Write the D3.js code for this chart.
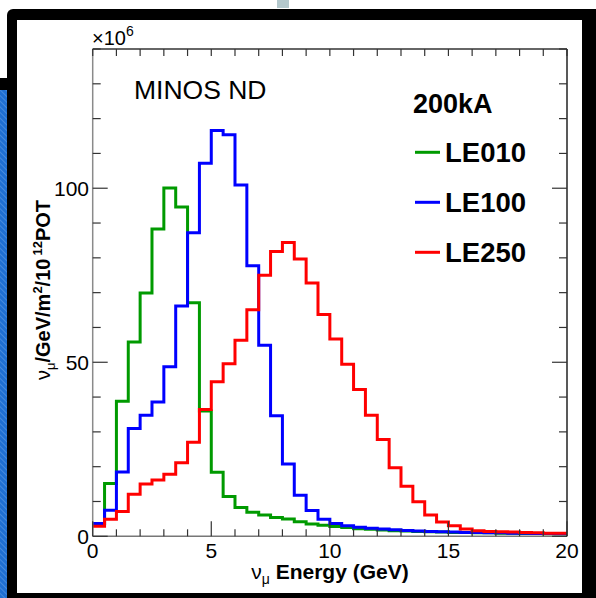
<!DOCTYPE html>
<html>
<head>
<meta charset="utf-8">
<script src="https://cdn.jsdelivr.net/npm/d3@7"></script>
<style>
  html, body { margin: 0; padding: 0; background: #fff; }
  svg { display: block; font-family: "Liberation Sans", Arial, Helvetica, sans-serif; }
</style>
</head>
<body>
<svg id="chart" width="596" height="598"></svg>
<script>
// Muon-neutrino flux at the MINOS near detector, 200 kA horn current,
// three target positions. Values in units of 10^6 per GeV per m^2 per 10^12 POT,
// 0.5 GeV bins from 0 to 20 GeV.
const binWidth = 0.5;
const binLow = d3.range(0, 20, binWidth);

const le010 = [3.7, 15.2, 38.8, 55.8, 69.9, 88.3, 100.1, 94.6, 67.1, 36.0,
               18.4, 11.4, 8.3, 6.9, 6.1, 5.4, 5.0, 4.2, 3.5, 3.2,
               2.8, 2.5, 2.2, 2.0, 1.8, 1.6, 1.5, 1.4, 1.3, 1.2,
               1.1, 1.1, 1.0, 1.0, 0.9, 0.9, 0.8, 0.8, 0.7, 0.7];
const le100 = [3.7, 7.5, 18.5, 31.0, 34.8, 38.6, 48.7, 66.2, 87.2, 107.2,
               116.6, 115.4, 100.9, 77.7, 54.9, 34.6, 20.8, 11.8, 7.4, 4.9,
               3.7, 3.0, 2.6, 2.3, 2.1, 1.9, 1.7, 1.5, 1.4, 1.3,
               1.2, 1.1, 1.1, 1.0, 1.0, 0.9, 0.9, 0.8, 0.8, 0.7];
const le250 = [2.9, 4.9, 7.1, 12.1, 15.0, 16.2, 17.8, 21.1, 27.0, 36.4,
               44.4, 49.6, 56.3, 65.1, 75.0, 81.8, 84.4, 79.7, 72.8, 63.7,
               56.7, 49.4, 42.2, 34.8, 27.8, 19.7, 14.4, 9.9, 6.1, 4.1,
               3.0, 2.1, 1.6, 1.4, 1.3, 1.2, 1.1, 1.0, 0.9, 0.9];

const seriesNames = ["LE010", "LE100", "LE250"];
const seriesColors = ["#009a00", "#0000ff", "#ff0000"];
const seriesValues = [le010, le100, le250];

const xTicks = [0, 5, 10, 15, 20];
const yTicks = [0, 50, 100];

const svg = d3.select("#chart");

// ---- page frame ----
const defs = svg.append("defs");
const pat = defs.append("pattern").attr("id", "hatch")
  .attr("width", 4).attr("height", 4)
  .attr("patternUnits", "userSpaceOnUse")
  .attr("patternTransform", "rotate(-45)");
pat.append("rect").attr("width", 4).attr("height", 4).attr("fill", "#1f6fd2");
pat.append("line").attr("x1", 0).attr("y1", 0).attr("x2", 0).attr("y2", 4)
  .attr("stroke", "#6aa4e8").attr("stroke-width", 1);

svg.append("rect").attr("x", 277).attr("y", 0).attr("width", 12).attr("height", 8).attr("fill", "#b4c8cc");
svg.append("rect").attr("x", 0).attr("y", 78).attr("width", 8).attr("height", 12).attr("fill", "#000");
svg.append("rect").attr("x", 0).attr("y", 90).attr("width", 7).attr("height", 508).attr("fill", "url(#hatch)");
svg.append("rect").attr("x", 7).attr("y", 9).attr("width", 600).attr("height", 600).attr("rx", 6).attr("fill", "#000");
svg.append("rect").attr("x", 17).attr("y", 20).attr("width", 565).attr("height", 573).attr("fill", "#fff");

// ---- plot area ----
const plotL = 92.7, plotR = 567, plotT = 49, plotB = 536.3;
const x = d3.scaleLinear().domain([0, 20]).range([plotL, plotR]);
const y = d3.scaleLinear().domain([0, 140]).range([plotB, plotT]);

const g = svg.append("g");

// histograms as step lines
const line = d3.line().x(d => x(d[0])).y(d => y(d[1])).curve(d3.curveStepAfter);
seriesValues.forEach((vals, i) => {
  const pts = binLow.map((e, k) => [e, vals[k]]);
  pts.push([20, vals[vals.length - 1]]);
  g.append("path").attr("d", line(pts))
    .attr("fill", "none").attr("stroke", seriesColors[i])
    .attr("stroke-width", 3).attr("stroke-linejoin", "miter");
});

// frame
g.append("line").attr("x1", plotL).attr("x2", plotL).attr("y1", plotT).attr("y2", plotB).attr("stroke", "#8a8a8a").attr("stroke-width", 1.5);
g.append("line").attr("x1", plotL).attr("x2", plotR).attr("y1", plotB).attr("y2", plotB).attr("stroke", "#777").attr("stroke-width", 1.5);
g.append("line").attr("x1", plotL).attr("x2", plotR).attr("y1", plotT).attr("y2", plotT).attr("stroke", "#333").attr("stroke-width", 1.5);
g.append("line").attr("x1", plotR).attr("x2", plotR).attr("y1", plotT).attr("y2", plotB).attr("stroke", "#222").attr("stroke-width", 1.5);

// ticks: minor every 1 GeV / 10 units, major at labelled values
const xMinor = d3.range(0, 21, 1);
const yMinor = d3.range(0, 141, 10);
const tickCol = "#333";
xMinor.forEach(v => {
  const len = v % 5 === 0 ? 15 : 7;
  g.append("line").attr("x1", x(v)).attr("x2", x(v)).attr("y1", plotB).attr("y2", plotB - len).attr("stroke", tickCol).attr("stroke-width", 1.2);
  g.append("line").attr("x1", x(v)).attr("x2", x(v)).attr("y1", plotT).attr("y2", plotT + 7).attr("stroke", tickCol).attr("stroke-width", 1.2);
});
yMinor.forEach(v => {
  const len = v % 50 === 0 ? 15 : 8;
  g.append("line").attr("x1", plotL).attr("x2", plotL + len).attr("y1", y(v)).attr("y2", y(v)).attr("stroke", tickCol).attr("stroke-width", 1.2);
  g.append("line").attr("x1", plotR).attr("x2", plotR - len).attr("y1", y(v)).attr("y2", y(v)).attr("stroke", tickCol).attr("stroke-width", 1.2);
});

// tick labels
g.selectAll(".xl").data(xTicks).enter().append("text")
  .attr("x", d => x(d)).attr("y", 558).attr("text-anchor", "middle")
  .attr("font-size", 21).attr("fill", "#000").text(d => d);
g.selectAll(".yl").data(yTicks).enter().append("text")
  .attr("x", 89).attr("y", d => y(d) + 7.5).attr("text-anchor", "end")
  .attr("font-size", 21).attr("fill", "#000").text(d => d);

// exponent
const ex = svg.append("text").attr("x", 92).attr("y", 45).attr("font-size", 20).attr("fill", "#000");
ex.append("tspan").text("\u00d710");
ex.append("tspan").attr("dy", -9).attr("font-size", 14).text("6");

// axis titles
const xt = svg.append("text").attr("x", 330).attr("y", 579).attr("text-anchor", "middle")
  .attr("font-size", 21).attr("fill", "#000");
xt.append("tspan").text("\u03bd");
xt.append("tspan").attr("dy", 5).attr("font-size", 14).text("\u03bc");
xt.append("tspan").attr("dy", -5).attr("font-weight", "bold").text(" Energy (GeV)");

const yt = svg.append("text").attr("transform", "translate(50,290) rotate(-90)")
  .attr("text-anchor", "middle").attr("font-size", 20).attr("fill", "#000");
yt.append("tspan").text("\u03bd");
yt.append("tspan").attr("dy", 5).attr("font-size", 13).text("\u03bc");
yt.append("tspan").attr("dy", -5).attr("font-weight", "bold").text("/GeV/m");
yt.append("tspan").attr("dy", -8).attr("font-size", 13).attr("font-weight", "bold").text("2");
yt.append("tspan").attr("dy", 8).attr("font-weight", "bold").text("/10");
yt.append("tspan").attr("dy", -8).attr("dx", 3).attr("font-size", 13).attr("font-weight", "bold").text("12");
yt.append("tspan").attr("dy", 8).attr("font-weight", "bold").text("POT");

// annotation and legend
svg.append("text").attr("x", 134).attr("y", 98.5).attr("font-size", 26.5).attr("fill", "#000").text("MINOS ND");
svg.append("text").attr("x", 413).attr("y", 112.5).attr("font-size", 27).attr("font-weight", "bold").attr("fill", "#000").text("200kA");

seriesNames.forEach((name, i) => {
  const ly = 152.3 + i * 50;
  svg.append("line").attr("x1", 415).attr("x2", 440).attr("y1", ly).attr("y2", ly)
    .attr("stroke", seriesColors[i]).attr("stroke-width", 3);
  svg.append("text").attr("x", 445).attr("y", ly + 10).attr("font-size", 27.5)
    .attr("font-weight", "bold").attr("fill", "#000").text(name);
});
</script>
</body>
</html>
